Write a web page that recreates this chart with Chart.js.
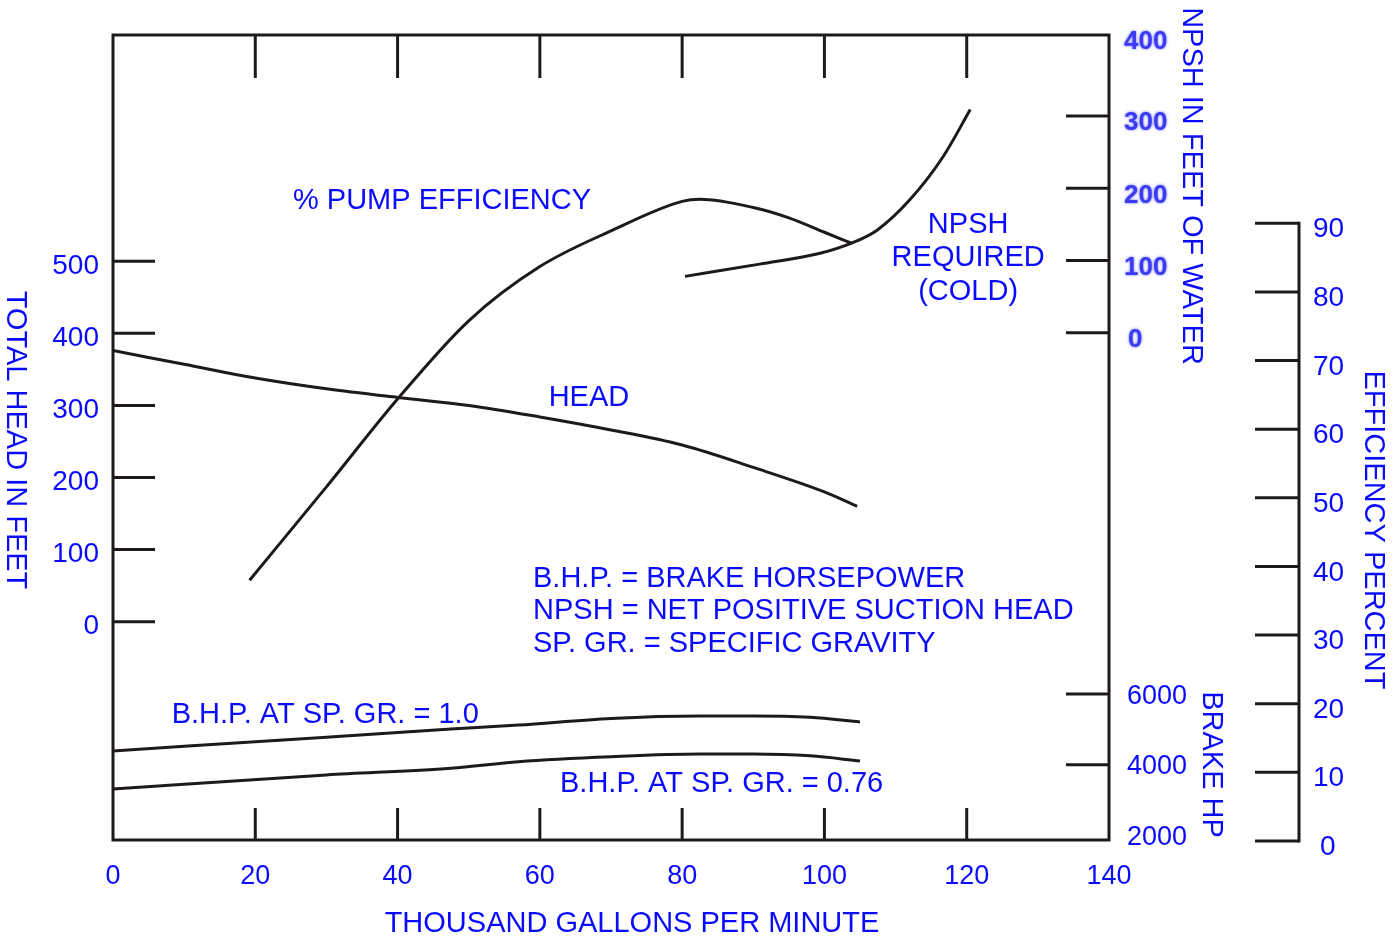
<!DOCTYPE html>
<html><head><meta charset="utf-8">
<script src="https://cdn.jsdelivr.net/npm/chart.js@4.4.1/dist/chart.umd.min.js"></script>
<style>html,body{margin:0;padding:0;background:#fff;overflow:hidden}canvas{display:block}</style>
</head><body>
<canvas id="c" width="1395" height="940"></canvas>
<script>
// ---------------- data ----------------
const xTickLabels = [0, 20, 40, 60, 80, 100, 120, 140];
const headTickLabels = [0, 100, 200, 300, 400, 500];
const npshTickLabels = [0, 100, 200, 300, 400];
const bhpTickLabels = [2000, 4000, 6000];
const effTickLabels = [0, 10, 20, 30, 40, 50, 60, 70, 80, 90];

// Total head (ft) vs thousand GPM
const headFlow = [0, 10, 20, 30, 40, 50, 60, 70, 80, 90, 100, 104.6];
const headFeet = [376, 357, 338, 323, 311, 300, 284, 266, 245, 214, 180, 160];

// % pump efficiency
const effFlow = [19.2, 30, 40, 50, 60, 70, 80, 82.5, 90, 95, 100, 103.8];
const effPct = [38.0, 51.6, 64.4, 75.8, 83.7, 88.9, 93.2, 93.5, 92.3, 90.8, 88.7, 87.1];

// NPSH required (cold), ft of water
const npshFlow = [80.4, 90.9, 99.4, 103.8, 107.4, 112.0, 116.7, 120.5];
const npshFeet = [78, 95, 110, 124, 142, 184, 244, 309];

// Brake horsepower
const bhpFlow = [0, 30, 47.5, 57, 70, 82.5, 90, 98, 105];
const bhpSg100 = [4390, 4780, 5010, 5120, 5310, 5380, 5380, 5340, 5210];
const bhpSg076 = [3310, 3710, 3900, 4085, 4225, 4300, 4300, 4250, 4105];

// ---------------- styling ----------------
const DARK = '#1e1a1a';
const BLUE = '#0a0aff';
const FONT = "'Liberation Sans', Arial, Helvetica, sans-serif";
const toPts = (xs, ys) => xs.map((x, i) => ({ x: x, y: ys[i] }));

function capText(ctx, text, cx, cy, size, rot, align) {
  ctx.save();
  ctx.font = size + 'px ' + FONT;
  ctx.textAlign = align || 'center';
  ctx.textBaseline = 'alphabetic';
  ctx.translate(cx, cy);
  if (rot) ctx.rotate(rot);
  ctx.fillText(text, 0, 0.358 * size);
  ctx.restore();
}

const notes = [
  { t: '% PUMP EFFICIENCY', x: 25.3, h: 586.3, align: 'left' },
  { t: 'NPSH', x: 120.2, h: 553.0, align: 'center' },
  { t: 'REQUIRED', x: 120.2, h: 507.2, align: 'center' },
  { t: '(COLD)', x: 120.2, h: 460.0, align: 'center' },
  { t: 'HEAD', x: 66.9, h: 313.7, align: 'center' },
  { t: 'B.H.P. = BRAKE HORSEPOWER', x: 59.04, h: 62.0, align: 'left' },
  { t: 'NPSH = NET POSITIVE SUCTION HEAD', x: 59.04, h: 17.6, align: 'left' },
  { t: 'SP. GR. = SPECIFIC GRAVITY', x: 59.04, h: -28.2, align: 'left' },
  { t: 'B.H.P. AT SP. GR. = 1.0', x: 8.25, h: -126.2, align: 'left' },
  { t: 'B.H.P. AT SP. GR. = 0.76', x: 62.83, h: -222.3, align: 'left' }
];

const decor = {
  id: 'decor',
  afterDraw(chart) {
    const ctx = chart.ctx, a = chart.chartArea;
    const sx = chart.scales.x, sy = chart.scales.y, sn = chart.scales.yNpsh,
          sb = chart.scales.yBhp, se = chart.scales.yEff;
    ctx.save();
    ctx.strokeStyle = DARK; ctx.lineWidth = 3; ctx.lineCap = 'butt';
    const seg = (x1, y1, x2, y2) => { ctx.beginPath(); ctx.moveTo(x1, y1); ctx.lineTo(x2, y2); ctx.stroke(); };
    // frame
    ctx.strokeRect(a.left, a.top, a.right - a.left, a.bottom - a.top);
    // x ticks, inside top and bottom
    xTickLabels.forEach(v => {
      const px = sx.getPixelForValue(v);
      if (px > a.left + 5 && px < a.right - 5) { seg(px, a.top, px, a.top + 43); seg(px, a.bottom, px, a.bottom - 32); }
    });
    // head ticks (left, inside)
    headTickLabels.forEach(v => { const py = sy.getPixelForValue(v); seg(a.left, py, a.left + 42, py); });
    // NPSH ticks (right, inside)
    npshTickLabels.forEach(v => { const py = sn.getPixelForValue(v); if (py > a.top + 15) seg(a.right - 43, py, a.right, py); });
    // BHP ticks
    bhpTickLabels.forEach(v => { const py = sb.getPixelForValue(v); if (py < a.bottom - 10) seg(a.right - 43, py, a.right, py); });
    // efficiency axis
    const ex = a.right + 190;
    const eTop = se.getPixelForValue(effTickLabels[effTickLabels.length - 1]);
    const eBot = se.getPixelForValue(effTickLabels[0]);
    seg(ex, eTop - 1.5, ex, eBot + 1.5);
    effTickLabels.forEach(v => { const py = se.getPixelForValue(v); seg(ex - 44, py, ex, py); });

    // tick labels on right axes
    ctx.fillStyle = BLUE;
    ctx.textBaseline = 'alphabetic'; ctx.textAlign = 'left';
    // NPSH labels (blurred bold look)
    ctx.save();
    ctx.font = 'bold 26px ' + FONT;
    ctx.fillStyle = '#3b3bf2';
    ctx.shadowColor = 'rgba(90,90,255,0.9)'; ctx.shadowBlur = 3;
    npshTickLabels.forEach(v => {
      const py = sn.getPixelForValue(v);
      const off = py < a.top + 15 ? -4 : 5;
      const lx = v === 0 ? a.right + 19 : a.right + 15;
      ctx.fillText(String(v), lx, py + off + 0.358 * 26);
    });
    ctx.restore();
    ctx.font = '27px ' + FONT;
    bhpTickLabels.forEach(v => { const py = sb.getPixelForValue(v); ctx.fillText(String(v), a.right + 18, py + 0.358 * 27); });
    ctx.font = '28px ' + FONT;
    effTickLabels.forEach(v => { const py = se.getPixelForValue(v); ctx.fillText(String(v), ex + 14 + (v === 0 ? 7 : 0), py + 4 + 0.358 * 28); });

    // axis titles
    capText(ctx, 'TOTAL HEAD IN FEET', 17.5, 440, 29, Math.PI / 2);
    capText(ctx, 'NPSH IN FEET OF WATER', 1193, 186, 29, Math.PI / 2);
    capText(ctx, 'BRAKE HP', 1213, 764.5, 29, Math.PI / 2);
    capText(ctx, 'EFFICIENCY PERCENT', 1375, 530, 29, Math.PI / 2);
    capText(ctx, 'THOUSAND GALLONS PER MINUTE', 632, 922, 29, 0);

    // in-plot notes, placed through the scales
    notes.forEach(n => capText(ctx, n.t, sx.getPixelForValue(n.x), sy.getPixelForValue(n.h), 29, 0, n.align));
    ctx.restore();
  }
};

const setTicks = arr => (s => { s.ticks = arr.map(v => ({ value: v })); });

new Chart(document.getElementById('c'), {
  type: 'line',
  data: {
    datasets: [
      { label: 'HEAD', data: toPts(headFlow, headFeet), yAxisID: 'y' },
      { label: '% PUMP EFFICIENCY', data: toPts(effFlow, effPct), yAxisID: 'yEff' },
      { label: 'NPSH REQUIRED (COLD)', data: toPts(npshFlow, npshFeet), yAxisID: 'yNpsh' },
      { label: 'B.H.P. AT SP. GR. = 1.0', data: toPts(bhpFlow, bhpSg100), yAxisID: 'yBhp' },
      { label: 'B.H.P. AT SP. GR. = 0.76', data: toPts(bhpFlow, bhpSg076), yAxisID: 'yBhp' }
    ]
  },
  options: {
    responsive: false, animation: false, devicePixelRatio: 1,
    layout: { padding: { top: 35, right: 286, left: 0, bottom: 0 } },
    elements: {
      line: { borderColor: DARK, borderWidth: 3, cubicInterpolationMode: 'monotone', fill: false },
      point: { radius: 0, hoverRadius: 0 }
    },
    plugins: { legend: { display: false }, tooltip: { enabled: false } },
    scales: {
      x: {
        type: 'linear', position: 'bottom', min: 0, max: 140,
        afterFit: s => { s.height = 100; }, afterBuildTicks: setTicks(xTickLabels),
        grid: { display: false }, border: { display: false },
        ticks: { color: BLUE, font: { family: FONT, size: 27 }, padding: 12, maxRotation: 0, autoSkip: false }
      },
      y: {
        type: 'linear', position: 'left', min: -302.77, max: 813.7,
        afterFit: s => { s.width = 113; }, afterBuildTicks: setTicks(headTickLabels),
        grid: { display: false }, border: { display: false },
        ticks: { color: BLUE, font: { family: FONT, size: 28 }, padding: 6, labelOffset: 5, autoSkip: false }
      },
      yNpsh: { type: 'linear', position: 'right', display: false, min: -702.3, max: 412.2 },
      yBhp: { type: 'linear', position: 'right', display: false, min: 1870, max: 24642 },
      yEff: { type: 'linear', position: 'right', display: false, min: 0.146, max: 117.44 }
    }
  },
  plugins: [decor]
});
</script>
</body></html>
